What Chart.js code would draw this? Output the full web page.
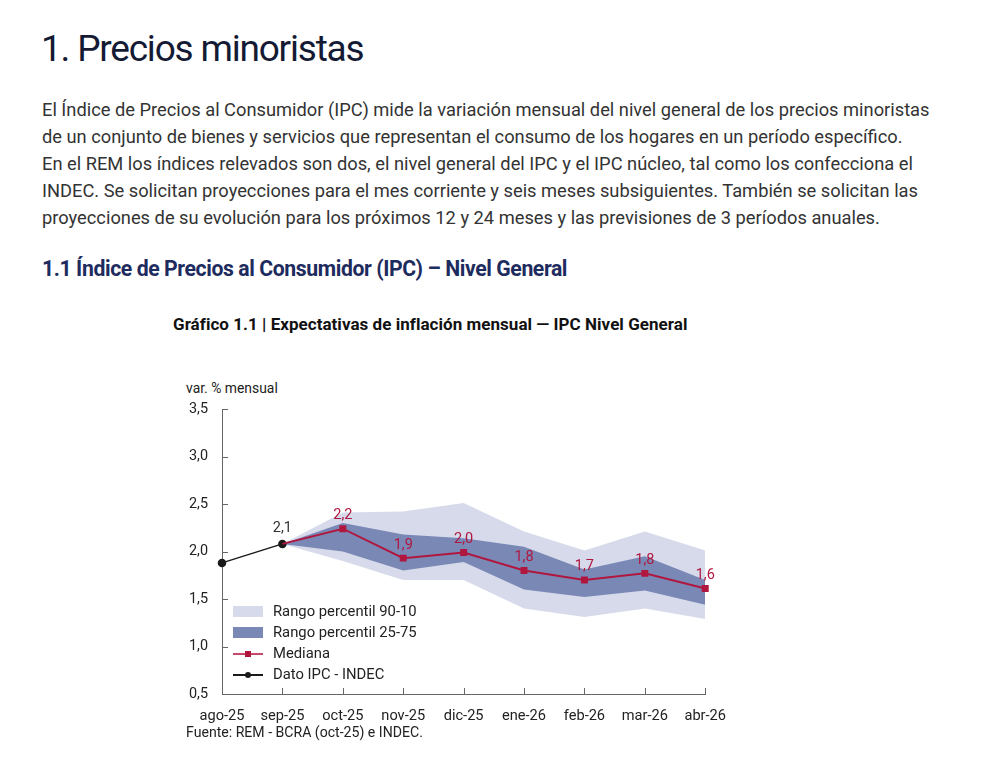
<!DOCTYPE html>
<html lang="es">
<head>
    <meta charset="UTF-8">
    <title>Precios minoristas</title>
    <script src="https://cdn.jsdelivr.net/npm/chart.js"></script>
    <style>
        body {
            margin: 0;
            font-family: 'Roboto', sans-serif;
            background: #fff;
            color: #2b2b2b;
            width: 1000px;
            height: 776px;
            position: relative;
            overflow: hidden;
        }
        .abs { position: absolute; white-space: nowrap; }
        h1 {
            position: absolute; left: 41px; top: 27px; margin: 0;
            font-size: 37px; font-weight: 400; color: #141a33;
            letter-spacing: -1.2px;
        }
        p.intro {
            position: absolute; left: 42px; top: 96px; margin: 0;
            font-size: 18.3px; line-height: 27px; color: #333;
            white-space: nowrap;
        }
        h2 {
            position: absolute; left: 42px; top: 256px; margin: 0;
            font-size: 21.2px; font-weight: 700; color: #1d2b5e;
            letter-spacing: -0.4px;
        }
        .ctitle {
            left: 173px; top: 314px; font-size: 17px; font-weight: 700; color: #111;
            letter-spacing: 0.04px;
        }
        #wrap { position: absolute; left: 160px; top: 380px; width: 580px; height: 345px; }
        .legend { position: absolute; left: 233px; top: 601px; font-size: 14.8px; color: #222; }
        .legend div { height: 21px; position: relative; padding-left: 40px; line-height: 21px; }
        .sw { position: absolute; left: 0; top: 5px; width: 30px; height: 11px; }
        .ln { position: absolute; left: 0; top: 10px; width: 30px; height: 2px; }
        .mk { position: absolute; left: 12px; top: 8px; width: 6px; height: 6px; }
    </style>
</head>
<body>
    <h1>1. Precios minoristas</h1>
    <p class="intro">El Índice de Precios al Consumidor (IPC) mide la variación mensual del nivel general de los precios minoristas<br>de un conjunto de bienes y servicios que representan el consumo de los hogares en un período específico.<br>En el REM los índices relevados son dos, el nivel general del IPC y el IPC núcleo, tal como los confecciona el<br>INDEC. Se solicitan proyecciones para el mes corriente y seis meses subsiguientes. También se solicitan las<br>proyecciones de su evolución para los próximos 12 y 24 meses y las previsiones de 3 períodos anuales.</p>
    <h2>1.1 Índice de Precios al Consumidor (IPC) – Nivel General</h2>
    <div class="abs ctitle">Gráfico 1.1 | Expectativas de inflación mensual — IPC Nivel General</div>
    <div class="abs" style="left:186px;top:380px;font-size:13.9px;color:#222;">var. % mensual</div>

    <div id="wrap"><canvas id="ipcChart"></canvas></div>

    <div class="legend">
        <div><span class="sw" style="background:#d6daea"></span>Rango percentil 90-10</div>
        <div><span class="sw" style="background:#7a88b6"></span>Rango percentil 25-75</div>
        <div><span class="ln" style="background:#c9486b"></span><span class="mk" style="background:#b0173f"></span>Mediana</div>
        <div><span class="ln" style="background:#1a1a1a"></span><span class="mk" style="background:#1a1a1a;border-radius:50%"></span>Dato IPC - INDEC</div>
    </div>

    <div class="abs" style="left:186px;top:724px;font-size:14.1px;color:#222;">Fuente: REM - BCRA (oct-25) e INDEC.</div>

    <script>
        // datos
        const months = ['ago-25', 'sep-25', 'oct-25', 'nov-25', 'dic-25', 'ene-26', 'feb-26', 'mar-26', 'abr-26'];
        const ipcIndec = [1.88, 2.08, null, null, null, null, null, null, null];
        const mediana = [null, 2.08, 2.24, 1.93, 1.99, 1.80, 1.70, 1.77, 1.61];
        const p90 = [null, 2.08, 2.41, 2.42, 2.51, 2.21, 2.01, 2.21, 2.01];
        const p75 = [null, 2.08, 2.30, 2.18, 2.14, 2.05, 1.81, 1.95, 1.70];
        const p25 = [null, 2.08, 2.00, 1.80, 1.89, 1.60, 1.52, 1.59, 1.44];
        const p10 = [null, 2.08, 1.90, 1.70, 1.70, 1.40, 1.31, 1.40, 1.29];
        const yTicks = [0.5, 1.0, 1.5, 2.0, 2.5, 3.0, 3.5];

        const fmt = v => v.toFixed(1).replace('.', ',');

        // ticks hacia adentro y etiquetas de valores
        const extras = {
            id: 'extras',
            afterDatasetsDraw(chart) {
                const ctx = chart.ctx;
                const x = chart.scales.x, y = chart.scales.y;
                ctx.save();
                ctx.strokeStyle = '#666';
                ctx.lineWidth = 1;
                yTicks.forEach(t => {
                    const py = Math.round(y.getPixelForValue(t)) + 0.5;
                    ctx.beginPath(); ctx.moveTo(x.left, py); ctx.lineTo(x.left + 6, py); ctx.stroke();
                });
                months.forEach((m, i) => {
                    if (i === 0) return;
                    const px = Math.round(x.getPixelForValue(i)) + 0.5;
                    ctx.beginPath(); ctx.moveTo(px, y.bottom); ctx.lineTo(px, y.bottom - 6); ctx.stroke();
                });
                ctx.font = '14.5px Roboto';
                ctx.textAlign = 'center';
                ctx.textBaseline = 'bottom';
                const med = chart.getDatasetMeta(0).data;
                mediana.forEach((v, i) => {
                    if (v === null || i < 2) return;
                    ctx.fillStyle = '#b0173f';
                    ctx.fillText(fmt(v), med[i].x, med[i].y - 6);
                });
                const ipc = chart.getDatasetMeta(1).data;
                ctx.fillStyle = '#333';
                ctx.fillText(fmt(ipcIndec[1]), ipc[1].x, ipc[1].y - 8);
                ctx.restore();
            }
        };

        const band = (data, color, fill) => ({
            data: data, borderWidth: 0, pointRadius: 0, backgroundColor: color,
            fill: fill, tension: 0
        });

        new Chart(document.getElementById('ipcChart'), {
            type: 'line',
            data: {
                labels: months,
                datasets: [
                    {
                        label: 'Mediana', data: mediana, borderColor: '#b0173f', backgroundColor: '#b0173f',
                        borderWidth: 2, pointStyle: 'rect', pointRadius: mediana.map((v, i) => i < 2 ? 0 : 3.5),
                        fill: false
                    },
                    {
                        label: 'Dato IPC - INDEC', data: ipcIndec, borderColor: '#1a1a1a', backgroundColor: '#1a1a1a',
                        borderWidth: 1.5, pointRadius: 3.5, fill: false
                    },
                    band(p75, '#7a88b6', '+1'),
                    band(p25, '#7a88b6', false),
                    band(p90, '#d6daea', '+1'),
                    band(p10, '#d6daea', false)
                ]
            },
            options: {
                responsive: true,
                maintainAspectRatio: false,
                animation: false,
                layout: { padding: { top: 29, right: 32, left: 0, bottom: 0 } },
                plugins: { legend: { display: false }, tooltip: { enabled: false } },
                scales: {
                    x: {
                        offset: false,
                        grid: { display: false, drawTicks: false },
                        border: { color: '#666', width: 1 },
                        ticks: { color: '#222', font: { family: 'Roboto', size: 14.6 }, padding: 14, maxRotation: 0, autoSkip: false },
                        afterFit(s) { s.height = 31; }
                    },
                    y: {
                        min: 0.5, max: 3.5,
                        grid: { display: false, drawTicks: false },
                        border: { color: '#666', width: 1 },
                        ticks: {
                            stepSize: 0.5, color: '#222', font: { family: 'Roboto', size: 14.4 }, padding: 14,
                            callback: v => fmt(v)
                        },
                        afterFit(s) { s.width = 62; }
                    }
                }
            },
            plugins: [extras]
        });
    </script>
</body>
</html>
